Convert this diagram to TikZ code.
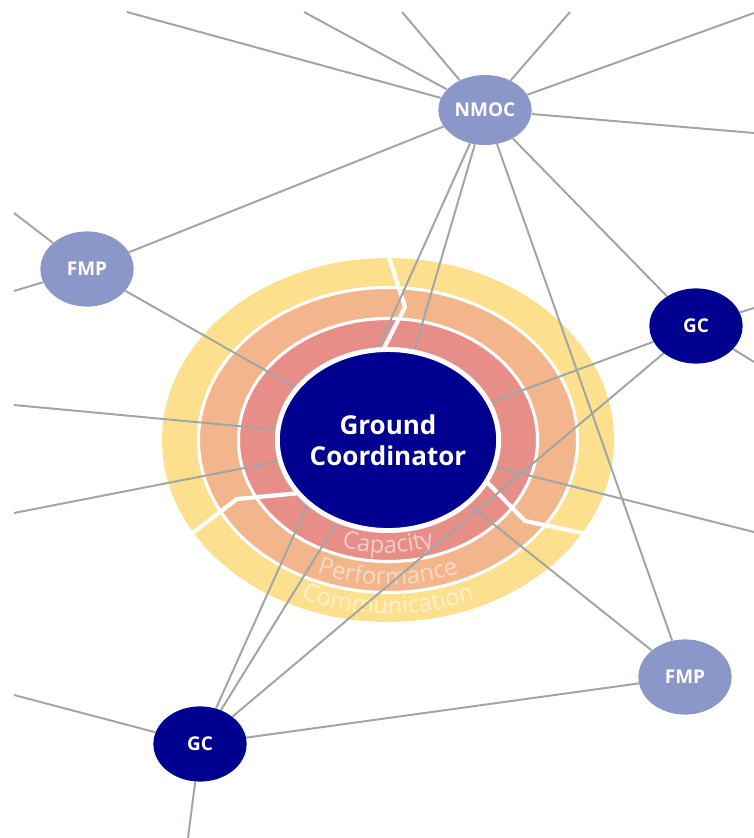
\documentclass[tikz,border=0pt]{standalone}
\usepackage{fontspec}
\setmainfont{Open Sans}
\usetikzlibrary{calc, shapes.geometric, decorations.text}
\definecolor{navy}{RGB}{0,0,144}
\definecolor{lilac}{RGB}{140,151,201}
\definecolor{ringred}{RGB}{232,142,136}
\definecolor{ringorange}{RGB}{243,182,140}
\definecolor{ringyellow}{RGB}{253,224,142}
\definecolor{linkgray}{RGB}{160,165,165}
\colorlet{captext}{ringred!45!white}
\colorlet{perftext}{ringorange!50!white}
\colorlet{commtext}{ringyellow!45!white}
\pgfdeclarelayer{rings}
\pgfdeclarelayer{links}
\pgfsetlayers{rings,links,main}
\tikzset{hub/.style={ellipse, fill=navy, draw=white, line width=3.5pt, minimum width=5.375cm, minimum height=4.525cm, inner sep=0pt, text=white, align=center, font=\fontsize{18.5}{22}\selectfont\bfseries}}
\tikzset{gnode/.style={ellipse, fill=navy, minimum width=2.33cm, minimum height=1.88cm, inner sep=0pt, text=white, font=\fontsize{13.5}{15}\selectfont\bfseries}}
\tikzset{lnode/.style={gnode, fill=lilac}}
\tikzset{lnk/.style={draw=linkgray, line width=1.4pt}}
\tikzset{ringcut/.style={draw=white, line width=3pt, line join=round}}
\tikzset{ringlabel/.style args={#1/#2}{decorate, decoration={text along path, text align=center, text color=#2, text={|\fontsize{17}{20}\selectfont|#1}}}}

\begin{document}
\begin{tikzpicture}[x=0.025cm, y=0.025cm]
	\useasboundingbox (0,0) rectangle (754,-838);
	\node[hub] (coord) at (388,-440) {Ground\\Coordinator};
	\node[lnode, minimum height=1.75cm] (nmoc) at (485,-110) {NMOC};
	\node[lnode] (fmpl) at (87,-269) {FMP};
	\node[lnode] (fmpr) at (685,-677) {FMP};
	\node[gnode] (gcr) at (696,-326) {GC};
	\node[gnode] (gcb) at (200,-744) {GC};
	% loose ends at the border
	\coordinate (t1) at (127,-12);
	\coordinate (t2) at (304,-12);
	\coordinate (t3) at (402,-12);
	\coordinate (t4) at (570,-12);
	\coordinate (t5) at (754,-13);
	\coordinate (r1) at (754,-133);
	\coordinate (r2) at (754,-308);
	\coordinate (r3) at (754,-362);
	\coordinate (r4) at (754,-532);
	\coordinate (l1) at (14,-213);
	\coordinate (l2) at (14,-291);
	\coordinate (l3) at (14,-405);
	\coordinate (l4) at (14,-513);
	\coordinate (l5) at (14,-695);
	\coordinate (b1) at (188,-838);
	\begin{pgfonlayer}{rings}
		\fill[ringyellow] (coord.center) ellipse[x radius=226, y radius=182];
		\filldraw[fill=ringorange, draw=white, line width=2.2pt] (coord.center) ellipse[x radius=189.5, y radius=152.5];
		\filldraw[fill=ringred, draw=white, line width=2.2pt] (coord.center) ellipse[x radius=149.5, y radius=121.5];
		\draw[ringcut] (388,-254) -- (405,-307) -- (382,-352);
		\draw[ringcut] (300,-493) -- (237,-499) -- (186,-538);
		\draw[ringcut] (486,-481) -- (525,-521) -- (592,-535);
		\path[ringlabel=Capacity/captext] ($(coord.center)+(200:136 and 113)$) arc[start angle=200, end angle=340, x radius=136, y radius=113];
		\path[ringlabel=Performance/perftext] ($(coord.center)+(200:177 and 145)$) arc[start angle=200, end angle=340, x radius=177, y radius=145];
		\path[ringlabel=Communication/commtext] ($(coord.center)+(200:212 and 174)$) arc[start angle=200, end angle=340, x radius=212, y radius=174];
	\end{pgfonlayer}
	\begin{pgfonlayer}{links}
		\foreach \a/\b in {nmoc/t1, nmoc/t2, nmoc/t3, nmoc/t4, nmoc/t5, nmoc/r1, nmoc/fmpl, nmoc/coord, nmoc/gcb, nmoc/gcr, nmoc/fmpr, fmpl/l1, fmpl/l2, fmpl/coord, coord/l3, coord/l4, coord/r4, coord/gcr, coord/fmpr, coord/gcb, gcr/r2, gcr/r3, gcr/gcb, gcb/l5, gcb/b1, gcb/fmpr}
			\draw[lnk] (\a) -- (\b);
	\end{pgfonlayer}
\end{tikzpicture}
\end{document}
